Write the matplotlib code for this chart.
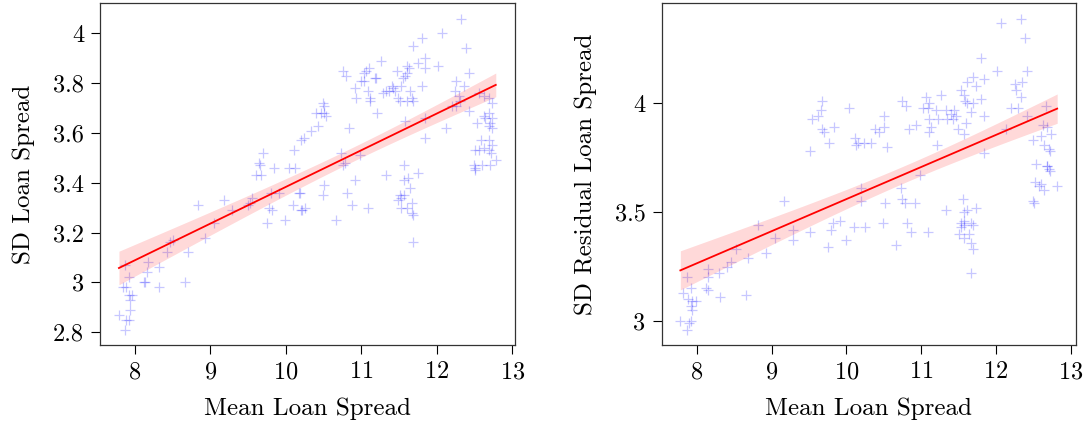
import numpy as np
import matplotlib
matplotlib.use('Agg')
import matplotlib.pyplot as plt

plt.rcParams['font.family'] = 'serif'
plt.rcParams['font.serif'] = ['cmr10']
plt.rcParams['axes.formatter.use_mathtext'] = True
plt.rcParams['mathtext.fontset'] = 'cm'

# Left panel: mean spread vs SD of loan spread
x_left = [7.79, 7.87, 7.88, 7.92, 7.94, 7.94, 7.92, 7.96, 7.84, 7.89, 7.92, 7.87,
          8.12, 8.14, 8.16, 8.17, 8.32, 8.32, 8.67, 8.42, 8.47, 8.51, 8.70, 8.93,
          9.05, 8.84, 9.18, 9.29, 9.50, 9.52, 9.55, 9.75, 9.78, 9.82, 9.80, 9.91,
          9.99, 10.09, 10.19, 10.20, 9.60, 9.67, 9.64, 9.66, 9.70, 9.84, 10.04, 10.12,
          10.11, 10.20, 10.22, 10.25, 10.18, 10.24, 10.33, 10.42, 10.40, 10.47, 10.51,
          10.53, 10.49, 10.51, 10.51, 10.49, 10.67, 10.73, 10.76, 10.78, 10.81, 10.84,
          10.88, 10.91, 10.98, 10.76, 10.80, 10.92, 10.93, 11.00, 11.04, 11.06, 11.10,
          11.03, 11.09, 11.11, 11.12, 11.18, 11.20, 11.21, 11.26, 11.29, 11.33, 11.36,
          11.40, 11.42, 11.44, 11.47, 11.49, 11.51, 11.55, 11.58, 11.60, 11.53, 11.60,
          11.63, 11.60, 11.58, 11.64, 11.67, 11.69, 11.69, 11.80, 11.75, 11.84, 11.84,
          11.80, 11.84, 11.84, 12.01, 12.07, 12.32, 12.38, 12.42, 12.25, 12.36, 12.24,
          12.29, 12.31, 12.25, 12.20, 12.42, 12.12, 11.33, 11.57, 11.56, 11.62, 11.64,
          11.75, 11.51, 11.53, 11.56, 11.49, 11.53, 11.60, 11.67, 11.67, 11.69, 11.68,
          11.09, 12.53, 12.62, 12.64, 12.69, 12.73, 12.71, 12.69, 12.73, 12.56, 12.62,
          12.69, 12.73, 12.50, 12.56, 12.62, 12.69, 12.73, 12.72, 12.49, 12.51, 12.60,
          12.71, 12.78, 12.58, 12.69, 12.51]
y_left = [2.87, 2.81, 2.85, 2.85, 2.89, 2.93, 2.95, 2.95, 2.98, 2.98, 3.02, 3.07,
          3.00, 3.00, 3.04, 3.08, 3.06, 2.98, 3.00, 3.12, 3.16, 3.17, 3.12, 3.18,
          3.24, 3.31, 3.33, 3.29, 3.31, 3.32, 3.34, 3.24, 3.30, 3.29, 3.36, 3.36,
          3.25, 3.31, 3.36, 3.29, 3.43, 3.43, 3.48, 3.47, 3.52, 3.46, 3.46, 3.46,
          3.53, 3.57, 3.29, 3.30, 3.36, 3.58, 3.61, 3.63, 3.68, 3.68, 3.68, 3.67,
          3.72, 3.71, 3.39, 3.35, 3.25, 3.52, 3.47, 3.48, 3.36, 3.62, 3.31, 3.41,
          3.51, 3.85, 3.83, 3.78, 3.74, 3.81, 3.81, 3.85, 3.86, 3.84, 3.77, 3.74,
          3.73, 3.82, 3.82, 3.68, 3.89, 3.76, 3.77, 3.77, 3.79, 3.78, 3.77, 3.85,
          3.74, 3.73, 3.82, 3.83, 3.84, 3.79, 3.87, 3.86, 3.73, 3.65, 3.77, 3.74,
          3.73, 3.95, 3.98, 3.88, 3.90, 3.86, 3.79, 3.66, 3.58, 3.87, 4.00, 4.06,
          3.94, 3.84, 3.81, 3.79, 3.77, 3.75, 3.73, 3.71, 3.71, 3.69, 3.62, 3.43,
          3.47, 3.41, 3.42, 3.38, 3.44, 3.35, 3.34, 3.35, 3.33, 3.30, 3.30, 3.32,
          3.28, 3.27, 3.16, 3.30, 3.64, 3.67, 3.66, 3.68, 3.66, 3.64, 3.63, 3.62,
          3.76, 3.75, 3.74, 3.72, 3.53, 3.53, 3.54, 3.53, 3.55, 3.52, 3.47, 3.46,
          3.47, 3.47, 3.49, 3.57, 3.57, 3.45]

# Right panel: mean spread vs SD of residual loan spread
x_right = [7.78, 7.87, 7.90, 7.92, 7.81, 7.92, 7.88, 7.93, 7.99, 7.92, 7.94, 7.87,
           8.12, 8.15, 8.15, 8.15, 8.31, 8.30, 8.41, 8.46, 8.53, 8.66, 8.69, 8.93,
           8.82, 9.05, 9.17, 9.28, 9.28, 9.52, 9.75, 9.79, 9.82, 9.92, 10.00, 10.10,
           10.25, 10.19, 10.19, 9.51, 9.54, 9.62, 9.66, 9.67, 9.67, 9.70, 9.84, 9.77,
           10.04, 10.11, 10.13, 10.24, 10.49, 10.52, 10.67, 10.81, 10.87, 11.09, 11.33,
           10.73, 10.74, 10.78, 10.92, 10.98, 10.15, 10.33, 10.38, 10.44, 10.50, 10.50,
           10.54, 10.75, 10.80, 10.84, 10.93, 11.07, 11.11, 11.02, 11.09, 11.10, 11.13,
           11.11, 11.20, 11.22, 11.26, 11.21, 11.33, 11.35, 11.40, 11.43, 11.46, 11.44,
           11.49, 11.58, 11.53, 11.57, 11.59, 11.62, 11.62, 11.69, 11.73, 11.67, 11.69,
           11.60, 11.80, 11.80, 11.84, 11.84, 11.84, 12.02, 12.07, 12.33, 12.39, 12.42,
           12.25, 12.27, 12.35, 12.33, 12.20, 12.29, 12.42, 12.13, 12.63, 12.67, 12.69,
           12.74, 12.49, 12.60, 12.64, 12.71, 12.73, 12.54, 12.68, 12.71, 12.73, 12.69,
           12.52, 12.58, 12.60, 12.65, 12.82, 12.49, 12.51, 11.56, 11.62, 11.74, 11.57,
           11.53, 11.57, 11.58, 11.67, 11.69, 11.53, 11.51, 11.64, 11.67, 11.69, 11.58,
           11.67]
y_right = [3.00, 2.96, 2.99, 3.00, 3.13, 3.15, 3.10, 3.09, 3.09, 3.07, 3.05, 3.20,
           3.15, 3.14, 3.20, 3.24, 3.11, 3.22, 3.25, 3.27, 3.33, 3.12, 3.29, 3.31,
           3.44, 3.38, 3.55, 3.42, 3.37, 3.41, 3.34, 3.42, 3.45, 3.46, 3.37, 3.43,
           3.43, 3.61, 3.55, 3.78, 3.93, 3.94, 3.97, 4.01, 3.88, 3.87, 3.89, 3.82,
           3.98, 3.84, 3.81, 3.82, 3.45, 3.54, 3.35, 3.45, 3.41, 3.41, 3.51,
           3.61, 3.56, 3.54, 3.54, 3.67, 3.82, 3.82, 3.88, 3.87, 3.89, 3.94,
           3.80, 4.01, 3.99, 3.88, 3.90, 4.03, 4.00, 3.98, 3.98, 3.93, 3.89,
           3.87, 3.97, 3.93, 4.04, 3.81, 3.97, 3.93, 3.95, 3.93, 3.94, 3.97,
           3.88, 3.86, 4.06, 4.04, 4.01, 4.00, 4.10, 4.12, 4.08, 3.96, 4.00,
           3.91, 4.21, 4.02, 4.11, 3.94, 3.77, 4.15, 4.37, 4.39, 4.30, 4.15,
           4.09, 4.06, 4.10, 4.03, 3.98, 3.98, 3.94, 3.88, 3.90, 3.99, 3.89,
           3.86, 3.83, 3.85, 3.81, 3.79, 3.78, 3.72, 3.71, 3.70, 3.69, 3.71,
           3.64, 3.62, 3.63, 3.60, 3.62, 3.55, 3.54, 3.56, 3.51, 3.52, 3.50,
           3.45, 3.46, 3.44, 3.45, 3.44, 3.43, 3.40, 3.40, 3.36, 3.33, 3.38,
           3.22]

xlabel = 'Mean Loan Spread'
ylabels = ['SD Loan Spread', 'SD Residual Loan Spread']


def fit_with_band(x, y):
    x = np.asarray(x)
    y = np.asarray(y)
    n = len(x)
    b1, b0 = np.polyfit(x, y, 1)
    grid = np.linspace(x.min(), x.max(), 100)
    fit = b0 + b1 * grid
    resid = y - (b0 + b1 * x)
    s = np.sqrt(np.sum(resid**2) / (n - 2))
    se = s * np.sqrt(1 / n + (grid - x.mean())**2 / np.sum((x - x.mean())**2))
    return grid, fit, 1.97 * se


fig = plt.figure(figsize=(10.88, 4.24), dpi=100)
ax1 = fig.add_axes([0.092, 0.186, 0.381, 0.807])
ax2 = fig.add_axes([0.608, 0.186, 0.381, 0.807])

for ax, xs, ys, lab in [(ax1, x_left, y_left, ylabels[0]), (ax2, x_right, y_right, ylabels[1])]:
    ax.scatter(xs, ys, marker='+', s=60, color='blue', alpha=0.22, linewidths=0.9)
    g, f, band = fit_with_band(xs, ys)
    ax.fill_between(g, f - band, f + band, color='red', alpha=0.15, linewidth=0)
    ax.plot(g, f, color='red', lw=1.3)
    ax.set_xlabel(xlabel, fontsize=18, labelpad=10)
    ax.set_ylabel(lab, fontsize=18, labelpad=13)
    ax.tick_params(labelsize=17.5, direction='out', length=6.5, width=0.8, pad=5)
    ax.set_xticks([8, 9, 10, 11, 12, 13])
    for sp in ax.spines.values():
        sp.set_color('#333333')
        sp.set_linewidth(0.9)

ax1.set_yticks([2.8, 3.0, 3.2, 3.4, 3.6, 3.8, 4.0])
ax1.set_yticklabels(['2.8', '3', '3.2', '3.4', '3.6', '3.8', '4'])
ax2.set_yticks([3.0, 3.5, 4.0])
ax2.set_yticklabels(['3', '3.5', '4'])

fig.savefig('out.png', dpi=100)
